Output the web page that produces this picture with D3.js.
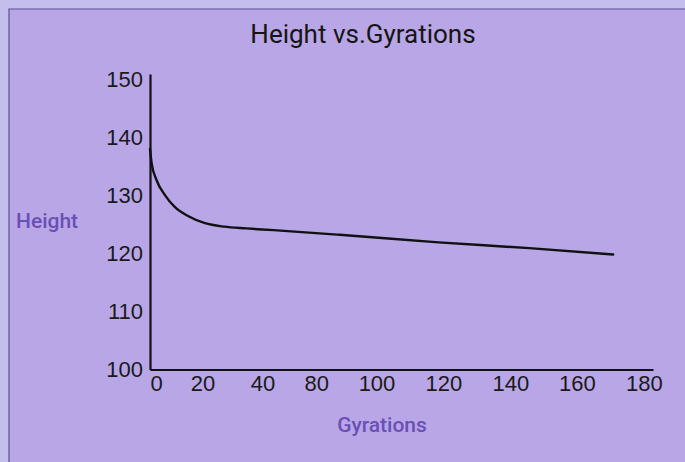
<!DOCTYPE html>
<html>
<head>
<meta charset="utf-8">
<script src="https://cdn.jsdelivr.net/npm/d3@7"></script>
<style>
  html, body { margin: 0; padding: 0; background: #c3bdec; }
  svg { display: block; }
</style>
</head>
<body>
<svg id="chart" width="685" height="462"></svg>
<script>
// ---- data ----
const gyrations = [0, 0.6, 2.4, 5.5, 9, 14, 20, 27, 35, 45, 69, 105, 138, 168.5];
const heights   = [138, 135.5, 132.6, 130, 128, 126.4, 125.2, 124.6, 124.3, 124.0, 123.2, 121.9, 120.9, 119.8];

const yTickValues = [100, 110, 120, 130, 140, 150];
const xTickLabels = ["0", "20", "40", "80", "100", "120", "140", "160", "180"];
// where each printed label sits along the gyration axis in the reference
const xTickAt     = [2.2, 19.1, 40.9, 60.5, 82.4, 106.7, 131.1, 155.3, 179.7];

const titleText = "Height vs.Gyrations";
const xTitle = "Gyrations";
const yTitle = "Height";

// ---- layout ----
const W = 685, H = 462;
const svg = d3.select("#chart");

// panel
svg.append("rect").attr("x", 0).attr("y", 0).attr("width", W).attr("height", H).attr("fill", "#c4beec");
svg.append("rect").attr("x", 9).attr("y", 9).attr("width", W).attr("height", H)
  .attr("fill", "#b8a6e6");
svg.append("path").attr("d", `M9,${H} V9 H${W}`).attr("fill", "none")
  .attr("stroke", "#5e4f94").attr("stroke-width", 1.2);

const x = d3.scaleLinear().domain([0, 183]).range([150, 653]);
const y = d3.scaleLinear().domain([100, 150.9]).range([369.5, 74]);

// x axis
const xAxis = d3.axisBottom(x)
  .tickValues(xTickAt)
  .tickFormat((d, i) => xTickLabels[i])
  .tickSize(0).tickSizeOuter(0).tickPadding(6);
const gx = svg.append("g").attr("transform", `translate(0,${y(100)})`).call(xAxis);
gx.select(".domain").attr("stroke", "#111").attr("stroke-width", 2.2);
gx.selectAll("text").attr("font-family", "'Liberation Sans', Arial, sans-serif")
  .attr("font-size", 22).attr("fill", "#1a1a1a");

// y axis
const yAxis = d3.axisLeft(y)
  .tickValues(yTickValues)
  .tickSize(0).tickSizeOuter(0).tickPadding(7);
const gy = svg.append("g").attr("transform", `translate(${x(0)},0)`).call(yAxis);
gy.select(".domain").attr("stroke", "#111").attr("stroke-width", 2.2);
gy.selectAll("text").attr("font-family", "'Liberation Sans', Arial, sans-serif")
  .attr("font-size", 22).attr("fill", "#1a1a1a");

// curve
const pts = gyrations.map((g, i) => [g, heights[i]]);
const line = d3.line().x(d => x(d[0])).y(d => y(d[1])).curve(d3.curveMonotoneX);
svg.append("path").datum(pts).attr("d", line)
  .attr("fill", "none").attr("stroke", "#111").attr("stroke-width", 2.4)
  .attr("stroke-linecap", "round");

// titles
svg.append("text").attr("x", 363).attr("y", 43).attr("text-anchor", "middle")
  .attr("font-family", "Roboto, sans-serif").attr("font-size", 26)
  .attr("fill", "#151515").text(titleText);

svg.append("text").attr("x", 16).attr("y", 228).attr("text-anchor", "start")
  .attr("font-family", "Roboto, sans-serif").attr("font-size", 21).attr("font-weight", 500)
  .attr("fill", "#6a4fb6").text(yTitle);

svg.append("text").attr("x", 382).attr("y", 432).attr("text-anchor", "middle")
  .attr("font-family", "Roboto, sans-serif").attr("font-size", 21).attr("font-weight", 500)
  .attr("fill", "#6a4fb6").text(xTitle);
</script>
</body>
</html>
